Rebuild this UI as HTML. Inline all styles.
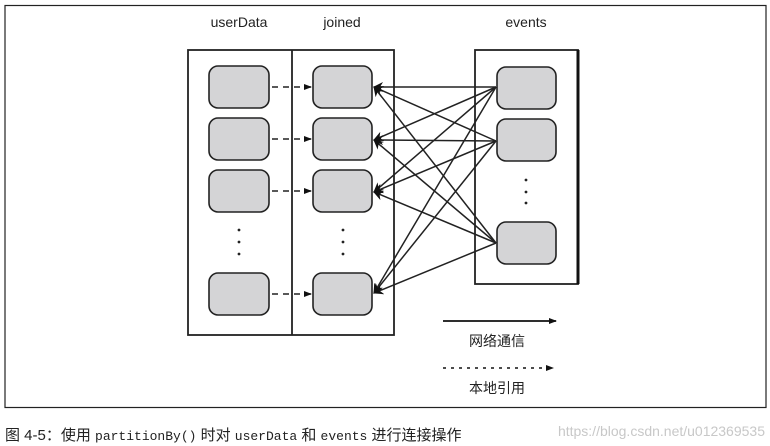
<!DOCTYPE html>
<html><head><meta charset="utf-8"><style>
html,body{margin:0;padding:0;background:#fff;width:770px;height:446px;overflow:hidden}
</style></head><body>
<svg width="770" height="446" xmlns="http://www.w3.org/2000/svg" style="position:absolute;left:0;top:0">
<defs>
<marker id="ah" markerWidth="10" markerHeight="10" refX="9" refY="5" orient="auto" markerUnits="userSpaceOnUse"><path d="M0,0 L10,5 L0,10 L3,5 z" fill="#111"/></marker>
<marker id="sa" markerWidth="8" markerHeight="8" refX="7" refY="4" orient="auto" markerUnits="userSpaceOnUse"><path d="M0,1 L8,4 L0,7 z" fill="#111"/></marker>
</defs>
<rect x="5" y="5.5" width="761" height="402" fill="none" stroke="#222" stroke-width="1.2"/>
<g font-family="Liberation Sans, sans-serif" font-size="14" fill="#222" text-anchor="middle">
<text x="239" y="27">userData</text><text x="342" y="27">joined</text><text x="526" y="27">events</text>
</g>
<rect x="188" y="50" width="206" height="285" fill="none" stroke="#222" stroke-width="1.8"/>
<line x1="292" y1="50" x2="292" y2="335" stroke="#222" stroke-width="1.8"/>
<rect x="475" y="50" width="103" height="234" fill="none" stroke="#222" stroke-width="1.8"/>
<line x1="578" y1="50" x2="578" y2="284" stroke="#111" stroke-width="3"/>
<g fill="#d4d4d6" stroke="#222" stroke-width="1.6">
<rect x="209" y="66" width="60" height="42" rx="9"/><rect x="209" y="118" width="60" height="42" rx="9"/><rect x="209" y="170" width="60" height="42" rx="9"/><rect x="209" y="273" width="60" height="42" rx="9"/>
<rect x="313" y="66" width="59" height="42" rx="9"/><rect x="313" y="118" width="59" height="42" rx="9"/><rect x="313" y="170" width="59" height="42" rx="9"/><rect x="313" y="273" width="59" height="42" rx="9"/>
<rect x="497" y="67" width="59" height="42" rx="9"/><rect x="497" y="119" width="59" height="42" rx="9"/><rect x="497" y="222" width="59" height="42" rx="9"/>
</g>
<g fill="#222">
<circle cx="239" cy="230" r="1.4"/><circle cx="239" cy="242" r="1.4"/><circle cx="239" cy="254" r="1.4"/>
<circle cx="343" cy="230" r="1.4"/><circle cx="343" cy="242" r="1.4"/><circle cx="343" cy="254" r="1.4"/>
<circle cx="526" cy="180" r="1.4"/><circle cx="526" cy="192" r="1.4"/><circle cx="526" cy="203" r="1.4"/>
</g>
<g stroke="#222" stroke-width="1.6" stroke-dasharray="6,5" marker-end="url(#sa)">
<line x1="272" y1="87" x2="311" y2="87"/><line x1="272" y1="139" x2="311" y2="139"/><line x1="272" y1="191" x2="311" y2="191"/><line x1="272" y1="294" x2="311" y2="294"/>
</g>
<g stroke="#222" stroke-width="1.5" marker-end="url(#ah)">
<line x1="496" y1="87" x2="374" y2="87"/><line x1="496" y1="87" x2="374" y2="140"/><line x1="496" y1="87" x2="374" y2="192"/><line x1="496" y1="87" x2="374" y2="293"/>
<line x1="496" y1="141" x2="374" y2="87"/><line x1="496" y1="141" x2="374" y2="140"/><line x1="496" y1="141" x2="374" y2="192"/><line x1="496" y1="141" x2="374" y2="293"/>
<line x1="496" y1="243" x2="374" y2="87"/><line x1="496" y1="243" x2="374" y2="140"/><line x1="496" y1="243" x2="374" y2="192"/><line x1="496" y1="243" x2="374" y2="293"/>
</g>
<line x1="443" y1="321" x2="556" y2="321" stroke="#111" stroke-width="1.8" marker-end="url(#sa)"/>
<line x1="443" y1="368" x2="553" y2="368" stroke="#111" stroke-width="1.6" stroke-dasharray="3,5" marker-end="url(#sa)"/>
<g font-family="Liberation Sans, Noto Sans CJK SC, sans-serif" font-size="14" fill="#222" text-anchor="middle">
<text x="497" y="346">网络通信</text><text x="497" y="393">本地引用</text>
</g>
<text x="5" y="440" font-family="Liberation Sans, Noto Sans CJK SC, sans-serif" font-size="15" fill="#222">图 4-5：使用 <tspan font-family="Liberation Mono, monospace" font-size="13">partitionBy()</tspan> 时对 <tspan font-family="Liberation Mono, monospace" font-size="13">userData</tspan> 和 <tspan font-family="Liberation Mono, monospace" font-size="13">events</tspan> 进行连接操作</text>
<text x="765" y="436" text-anchor="end" font-family="Liberation Sans, sans-serif" font-size="14" fill="#c8c8c8">https://blog.csdn.net/u012369535</text>
</svg>
</body></html>
